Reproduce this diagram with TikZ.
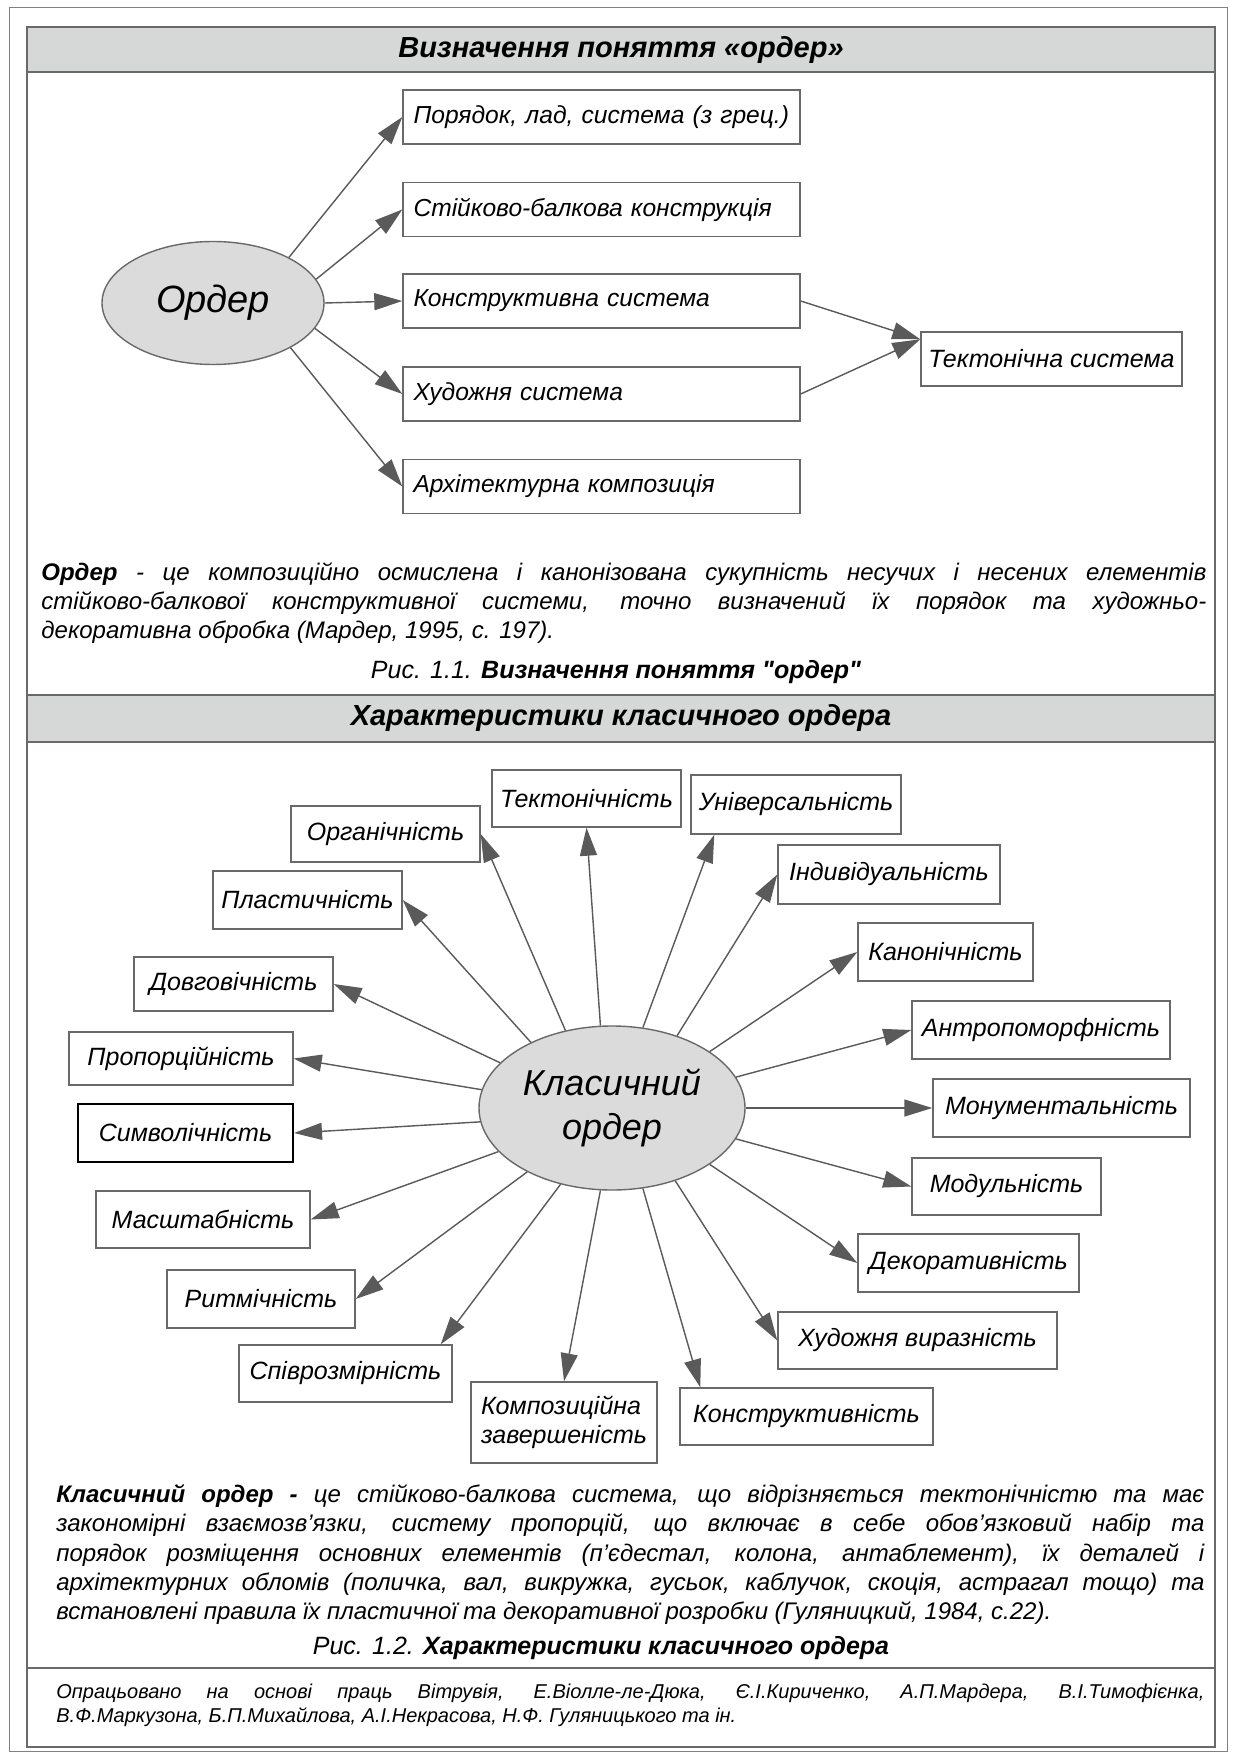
\documentclass[tikz,border=0pt]{standalone}
\usepackage{fontspec}
\setmainfont{Liberation Sans}
\usepackage{tikz}
\usetikzlibrary{arrows.meta,shapes.geometric,calc,positioning}
\tikzset{>={Triangle[length=14pt,width=8.5pt]}}
\definecolor{bandgray}{RGB}{213,216,215}
\definecolor{ellgray}{RGB}{219,219,219}
\definecolor{framegray}{RGB}{105,105,105}
\definecolor{arrowgray}{RGB}{90,90,90}
\tikzset{
	wh/.style 2 args={minimum width=#1*0.5pt, minimum height=#2*0.5pt},
	box/.style={draw=framegray, line width=0.7pt, fill=white, inner sep=0pt, align=center, font=\itshape\fontsize{12.5}{14.5}\selectfont},
	lbox/.style={box, text width=188pt, inner xsep=5.25pt, align=left, minimum height=27pt, font=\itshape\fontsize{12.3}{14.5}\selectfont},
	oval/.style={ellipse, draw=framegray, line width=0.7pt, fill=ellgray, inner sep=0pt, align=center},
	arr/.style={->, draw=arrowgray, fill=arrowgray, line width=0.7pt},
	band/.style={draw=framegray, line width=0.7pt, fill=bandgray},
	head/.style={font=\bfseries\itshape\fontsize{14.5}{17}\selectfont},
	para/.style={anchor=north west, inner sep=0pt, align=justify, font=\itshape\fontsize{12}{14.7}\selectfont},
	capt/.style={font=\itshape\fontsize{12.5}{15}\selectfont},
}

\begin{document}
\begin{tikzpicture}[x=0.5pt,y=-0.5pt]
	\useasboundingbox (0,0) rectangle (1232,1754);
	% frames
	\draw[gray, line width=0.5pt] (9,8) rectangle (1227,1751);
	\draw[framegray, line width=0.7pt, fill=white] (27,27) rectangle (1215,1747);
	\draw[band] (27,27) rectangle (1215,72);
	\draw[band] (27,695) rectangle (1215,742);
	\draw[framegray, line width=0.7pt] (27,1668) -- (1215,1668);
	\node[head] (title1) at (621,50) {Визначення поняття «ордер»};
	\node[head] (title2) at (621,718) {Характеристики класичного ордера};

	% Fig 1.1
	\node[oval, wh={222}{123}, font=\itshape\fontsize{19}{22}\selectfont] (ord) at (213,303) {Ордер};
	\node[lbox] (p1) at (601.5,117) {Порядок, лад, система (з грец.)};
	\node[lbox] (p2) at (601.5,209.5) {Стійково-балкова конструкція};
	\node[lbox] (p3) at (601.5,301) {Конструктивна система};
	\node[lbox] (p4) at (601.5,394) {Художня система};
	\node[lbox] (p5) at (601.5,486.5) {Архітектурна композиція};
	\node[box, wh={261}{54}] (tek) at (1051.5,359) {Тектонічна система};
	\coordinate (tin) at ([yshift=-4pt]tek.north west);
	\draw[arr] (ord.31) -- (p1.west);
	\draw[arr] (ord.13) -- (p2.west);
	\draw[arr] (ord.east) -- (p3.west);
	\draw[arr] (ord.346) -- (p4.west);
	\draw[arr] (ord.330) -- (p5.west);
	\draw[arr] (p3.east) -- (tin);
	\draw[arr] (p4.east) -- (tin);

	\node[para, text width=582.5pt] (def1) at (41,562) {\textbf{Ордер} - це композиційно осмислена і канонізована сукупність несучих і несених елементів\linebreak стійково-балкової конструктивної системи, точно визначений їх порядок та художньо-\linebreak декоративна обробка (Мардер, 1995, с. 197).};
	\node[capt] (cap1) at (616,672) {Рис. 1.1. \textbf{Визначення поняття \textquotedbl ордер\textquotedbl}};

	% Fig 1.2
	\node[oval, wh={266}{164}, font=\itshape\fontsize{18}{22}\selectfont] (kl) at (612,1108) {Класичний\\ордер};
	\node[box, wh={189}{57}] (tekt) at (586.5,798.5) {Тектонічність};
	\node[box, wh={210}{59}] (uni) at (796,804.5) {Універсальність};
	\node[box, wh={189}{56}] (org) at (385.5,834) {Органічність};
	\node[box, wh={222}{59}] (ind) at (889,874.5) {Індивідуальність};
	\node[box, wh={189}{58}] (pla) at (307.5,900) {Пластичність};
	\node[box, wh={175}{58}] (kan) at (945.5,952) {Канонічність};
	\node[box, wh={199}{54}] (dov) at (233.5,984) {Довговічність};
	\node[box, wh={258}{58}] (ant) at (1041,1030) {Антропоморфність};
	\node[box, wh={224}{53}] (pro) at (181,1058.5) {Пропорційність};
	\node[box, wh={257}{58}] (mon) at (1061.5,1108) {Монументальність};
	\node[box, wh={215}{58}, draw=black, line width=1pt] (sym) at (185.5,1133) {Символічність};
	\node[box, wh={189}{57}] (mod) at (1006.5,1186.5) {Модульність};
	\node[box, wh={214}{57}] (mas) at (203,1219.5) {Масштабність};
	\node[box, wh={221}{58}] (dek) at (968.5,1263) {Декоративність};
	\node[box, wh={188}{58}] (rit) at (261,1299) {Ритмічність};
	\node[box, wh={279}{57}] (hud) at (917.5,1340.5) {Художня виразність};
	\node[box, wh={213}{57}] (spi) at (345.5,1373.5) {Співрозмірність};
	\node[box, wh={186}{81}, align=left] (kom) at (564,1422.5) {Композиційна\\завершеність};
	\node[box, wh={253}{57}] (kon) at (806.5,1416.5) {Конструктивність};

	\draw[arr] (kl.98) -- (tekt.south);
	\draw[arr] (kl.69) -- ([xshift=12pt]uni.south west);
	\draw[arr] (kl.121) -- (org.east);
	\draw[arr] (kl.48) -- (ind.west);
	\draw[arr] (kl.141) -- (pla.east);
	\draw[arr] (kl.30) -- (kan.west);
	\draw[arr] (kl.158) -- (dov.east);
	\draw[arr] (kl.14) -- (ant.west);
	\draw[arr] (kl.172) -- (pro.east);
	\draw[arr] (kl.east) -- (mon.west);
	\draw[arr] (kl.186) -- (sym.east);
	\draw[arr] (kl.346) -- (mod.west);
	\draw[arr] (kl.201) -- (mas.east);
	\draw[arr] (kl.330) -- (dek.west);
	\draw[arr] (kl.217) -- (rit.east);
	\draw[arr] (kl.311) -- (hud.west);
	\draw[arr] (kl.236) -- ([xshift=-6pt]spi.north east);
	\draw[arr] (kl.262) -- (kom.north);
	\draw[arr] (kl.291) -- ([xshift=10.5pt]kon.north west);

	\node[para, text width=574pt] (def2) at (56,1484) {\textbf{Класичний ордер -} це стійково-балкова система, що відрізняється тектонічністю та має\linebreak закономірні взаємозв’язки, систему пропорцій, що включає в себе обов’язковий набір та\linebreak порядок розміщення основних елементів (п’єдестал, колона, антаблемент), їх деталей і\linebreak архітектурних обломів (поличка, вал, викружка, гусьок, каблучок, скоція, астрагал тощо) та\linebreak встановлені правила їх пластичної та декоративної розробки (Гуляницкий, 1984, с.22).};
	\node[capt] (cap2) at (601,1648) {Рис. 1.2. \textbf{Характеристики класичного ордера}};

	\node[para, text width=574pt, font=\itshape\fontsize{10}{12}\selectfont] (src) at (56,1684) {Опрацьовано на основі праць Вітрувія, Е.Віолле-ле-Дюка, Є.І.Кириченко, А.П.Мардера, В.І.Тимофієнка,\linebreak В.Ф.Маркузона, Б.П.Михайлова, А.І.Некрасова, Н.Ф. Гуляницького та ін.};
\end{tikzpicture}
\end{document}
